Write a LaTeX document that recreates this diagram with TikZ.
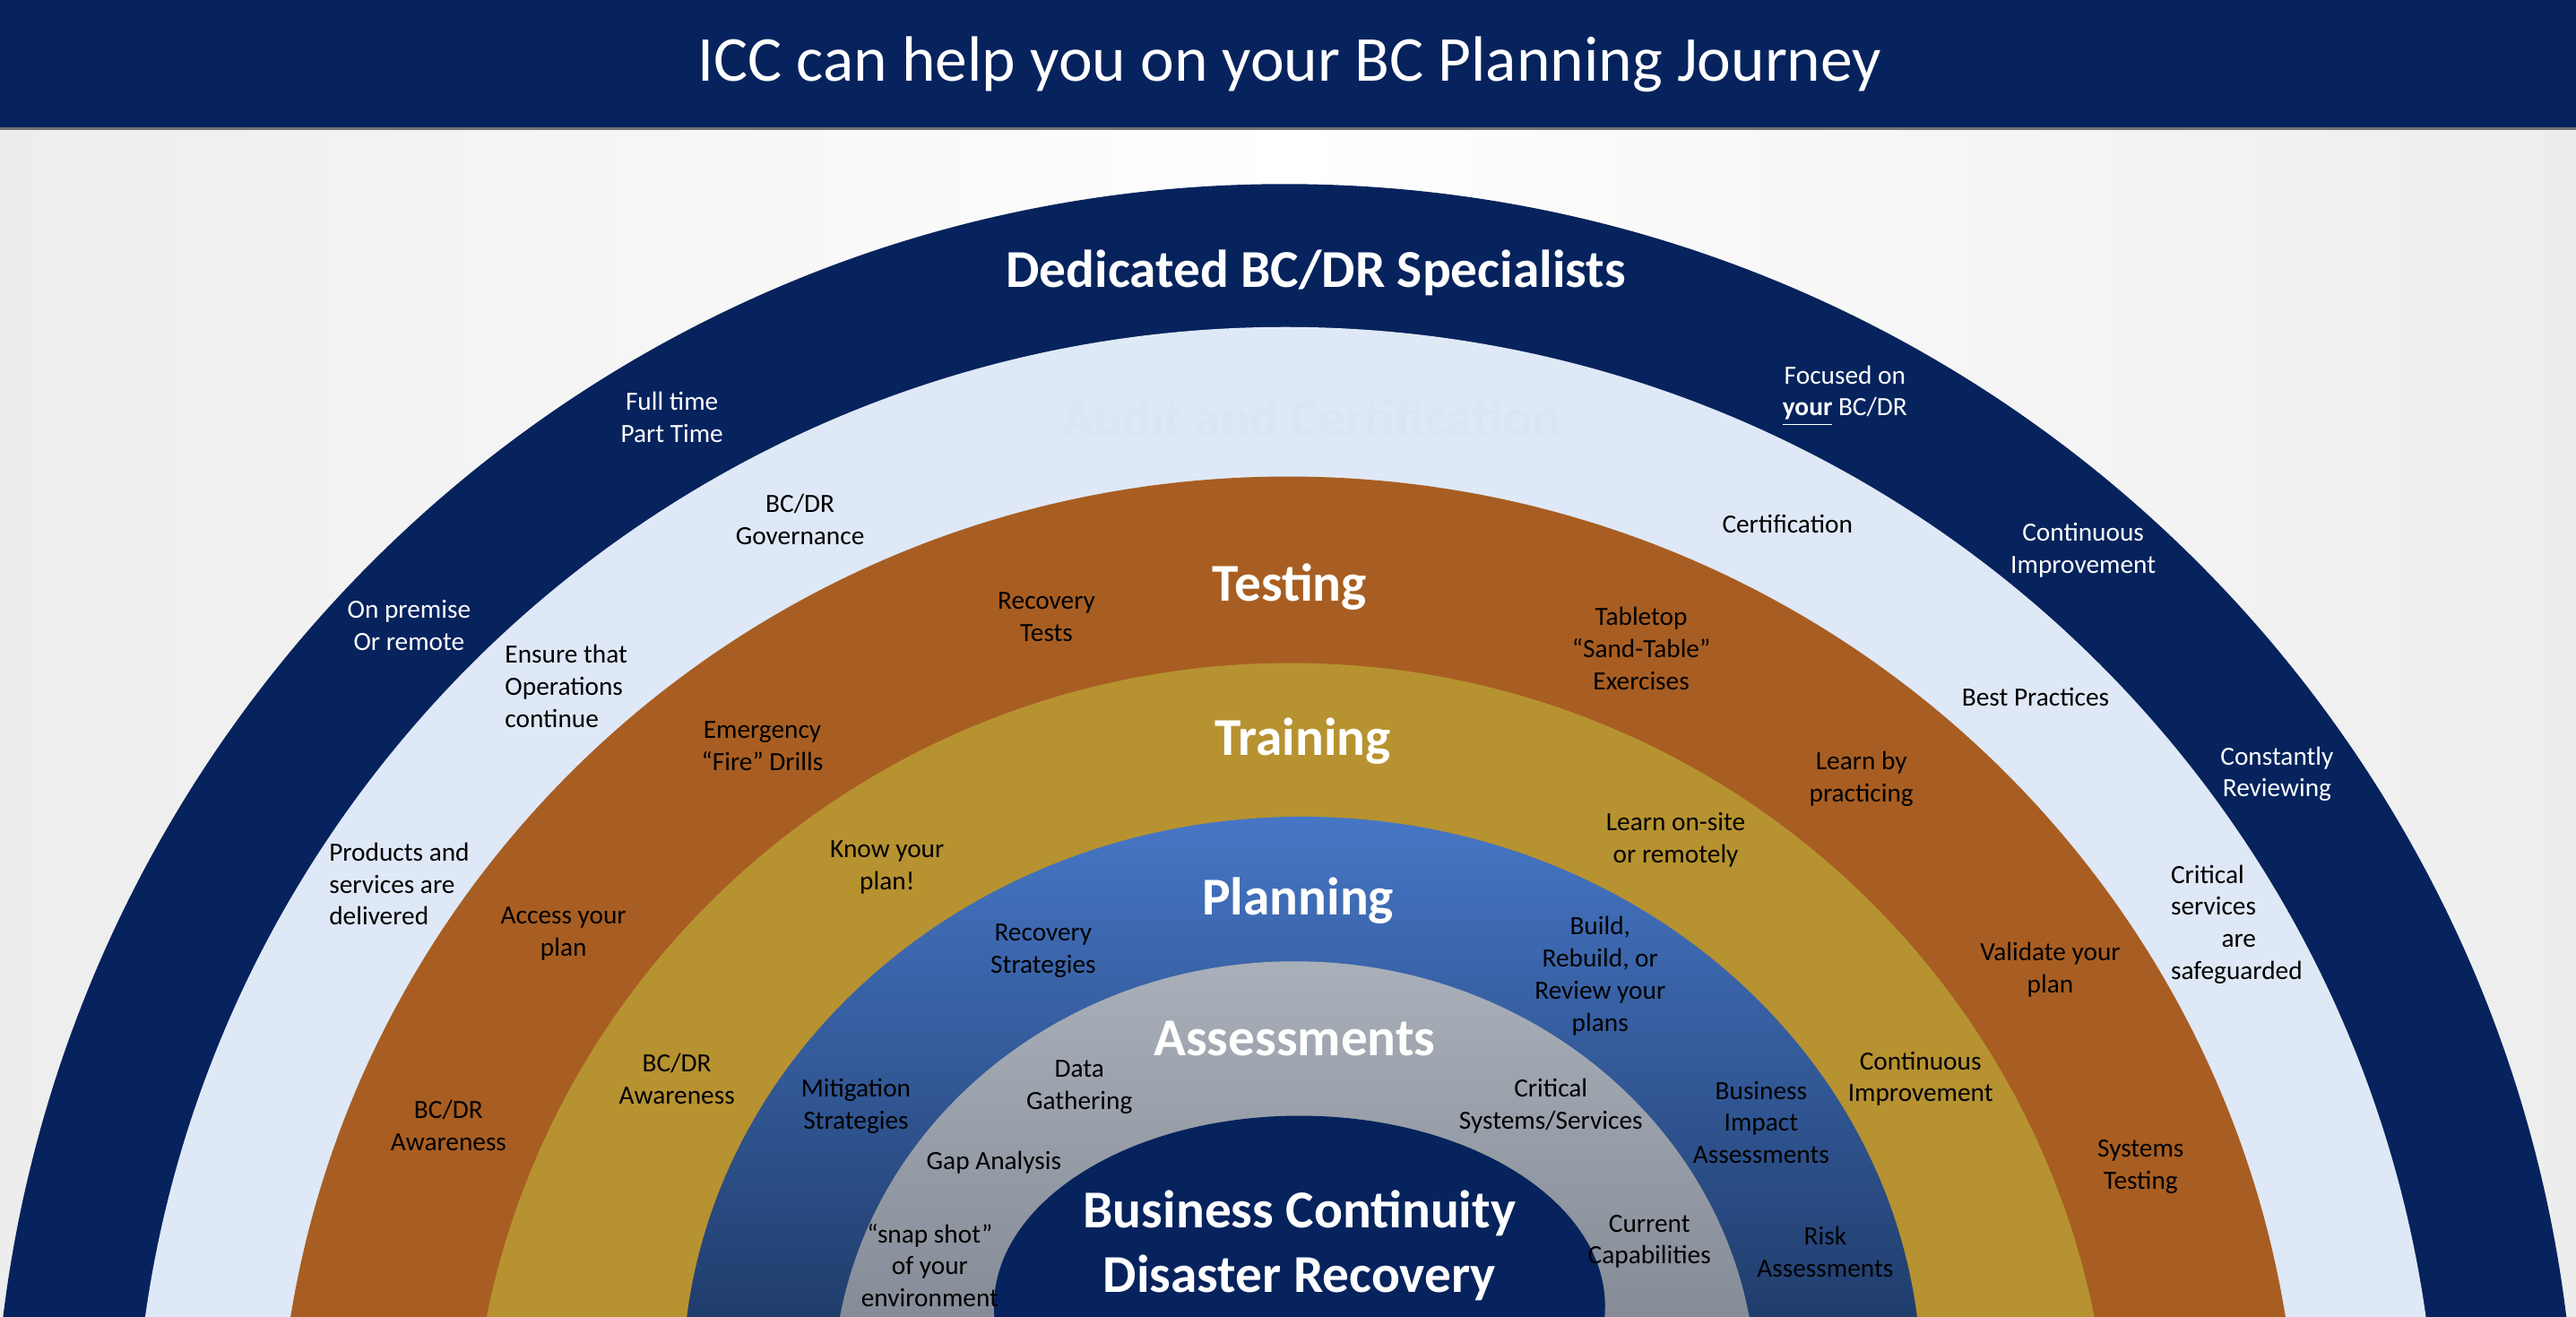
\documentclass[tikz,border=0pt]{standalone}
\usepackage{fontspec}
\setmainfont{Carlito}
\definecolor{navy}{HTML}{06235D}
\definecolor{lightring}{HTML}{DFE8F6}
\definecolor{orangering}{HTML}{A85E22}
\definecolor{goldring}{HTML}{B79231}
\definecolor{bluetop}{HTML}{4676C5}
\definecolor{bluebot}{HTML}{203D6C}
\definecolor{graytop}{HTML}{A9B0B9}
\definecolor{graybot}{HTML}{858C97}
\definecolor{bggray}{HTML}{EDEDED}
\definecolor{faint}{HTML}{DAE5F5}
\begin{document}
\begin{tikzpicture}[x=0.5pt,y=-0.5pt,
  small/.style={font=\fontsize{8}{9.75}\selectfont, text=black, align=center, inner sep=0pt},
  whitesmall/.style={small, text=white},
  leftsmall/.style={small, align=left, anchor=west},
  ringlabel/.style={font=\fontsize{16.2}{19.5}\selectfont\bfseries, text=white, inner sep=0pt, align=center}]
\useasboundingbox (0,0) rectangle (1568,801);
\begin{scope}
\clip (0,0) rectangle (1568,801);
\shade[left color=bggray, right color=bggray, middle color=white] (0,78) rectangle (1568,801);
\fill[navy] (0,0) rectangle (1568,78);
\fill[black!55] (0,77.5) rectangle (1568,79);
% rings
\fill[navy] (782,898) ellipse [x radius=786, y radius=786];
\fill[lightring] (782.5,900) ellipse [x radius=701, y radius=701];
\fill[orangering] (784,899) ellipse [x radius=615, y radius=609];
\fill[goldring] (785.5,899) ellipse [x radius=499, y radius=495.5];
\begin{scope}
\clip (792.5,842) ellipse [x radius=377, y radius=345];
\shade[top color=bluetop, bottom color=bluebot] (0,497) rectangle (1568,801);
\end{scope}
\begin{scope}
\clip (788,847) ellipse [x radius=281, y radius=262];
\shade[top color=graytop, bottom color=graybot] (0,584) rectangle (1568,801);
\end{scope}
\fill[navy] (791,795) ellipse [x radius=186, y radius=116];
\end{scope}
% title
\node[font=\fontsize{19.5}{23}\selectfont, text=white, anchor=base, inner sep=0pt] (title) at (785,49.5) {ICC can help you on your BC Planning Journey};
% ring headings
\node[ringlabel] (dedicated) at (801,166) {Dedicated BC/DR Specialists};
\node[ringlabel, text=faint] (audit) at (798,254) {Audit and Certification};
\node[ringlabel] (testing) at (785,357) {Testing};
\node[ringlabel] (training) at (793,451) {Training};
\node[ringlabel] (planning) at (790,548) {Planning};
\node[ringlabel] (assess) at (788,632) {Assessments};
\node[ringlabel] (bcdr) at (791,758) {Business Continuity\\Disaster Recovery};
% navy ring
\node[whitesmall] (fulltime) at (409,254) {Full time\\Part Time};
\node[whitesmall] (focused) at (1123,241) {Focused on\\\underline{\textbf{your}} BC/DR};
\node[whitesmall] (premise) at (249,380.5) {On premise\\Or remote};
\node[whitesmall] (contimpa) at (1268,335) {Continuous\\Improvement};
\node[whitesmall] (constantly) at (1386,471) {Constantly\\Reviewing};
% light ring
\node[small] (governance) at (487,316) {BC/DR\\Governance};
\node[small] (certification) at (1088,319) {Certification};
\node[leftsmall] (ensure) at (307,417.5) {Ensure that\\Operations\\continue};
\node[small] (bestpractices) at (1239,424) {Best Practices};
\node[leftsmall] (products) at (200,538) {Products and\\services are\\delivered};
\node[leftsmall] (critical) at (1321,562.5) {Critical\\services\\\hphantom{servi}are\\safeguarded};
% orange ring
\node[small] (recoverytests) at (637,375.5) {Recovery\\Tests};
\node[small] (tabletop) at (999,394.7) {Tabletop\\“Sand-Table”\\Exercises};
\node[small] (drills) at (464,454) {Emergency\\“Fire” Drills};
\node[small] (learnby) at (1133,474) {Learn by\\practicing};
\node[small] (access) at (343,568) {Access your\\plan};
\node[small] (validate) at (1248,590) {Validate your\\plan};
\node[small] (awarenessa) at (273,685) {BC/DR\\Awareness};
\node[small] (systemstesting) at (1303,710) {Systems\\Testing};
% gold ring
\node[small] (knowplan) at (540,528) {Know your\\plan!};
\node[small] (learnonsite) at (1020,511) {Learn on-site\\or remotely};
\node[small] (awarenessb) at (412,656.5) {BC/DR\\Awareness};
\node[small] (contimpb) at (1169,656.5) {Continuous\\Improvement};
% blue ring
\node[small] (recstrat) at (635,578.5) {Recovery\\Strategies};
\node[small] (build) at (974,594) {Build,\\Rebuild, or\\Review your\\plans};
\node[small] (mitigation) at (521,673) {Mitigation\\Strategies};
\node[small] (bia) at (1072,683) {Business\\Impact\\Assessments};
\node[small] (risk) at (1111,762) {Risk\\Assessments};
% gray ring
\node[small] (datagath) at (657,661.5) {Data\\Gathering};
\node[small] (critsys) at (944,673) {Critical\\Systems/Services};
\node[small] (gap) at (605,707.4) {Gap Analysis};
\node[small] (snapshot) at (566,770) {“snap shot”\\of your\\environment};
\node[small] (current) at (1004,755.6) {Current\\Capabilities};
\end{tikzpicture}
\end{document}
